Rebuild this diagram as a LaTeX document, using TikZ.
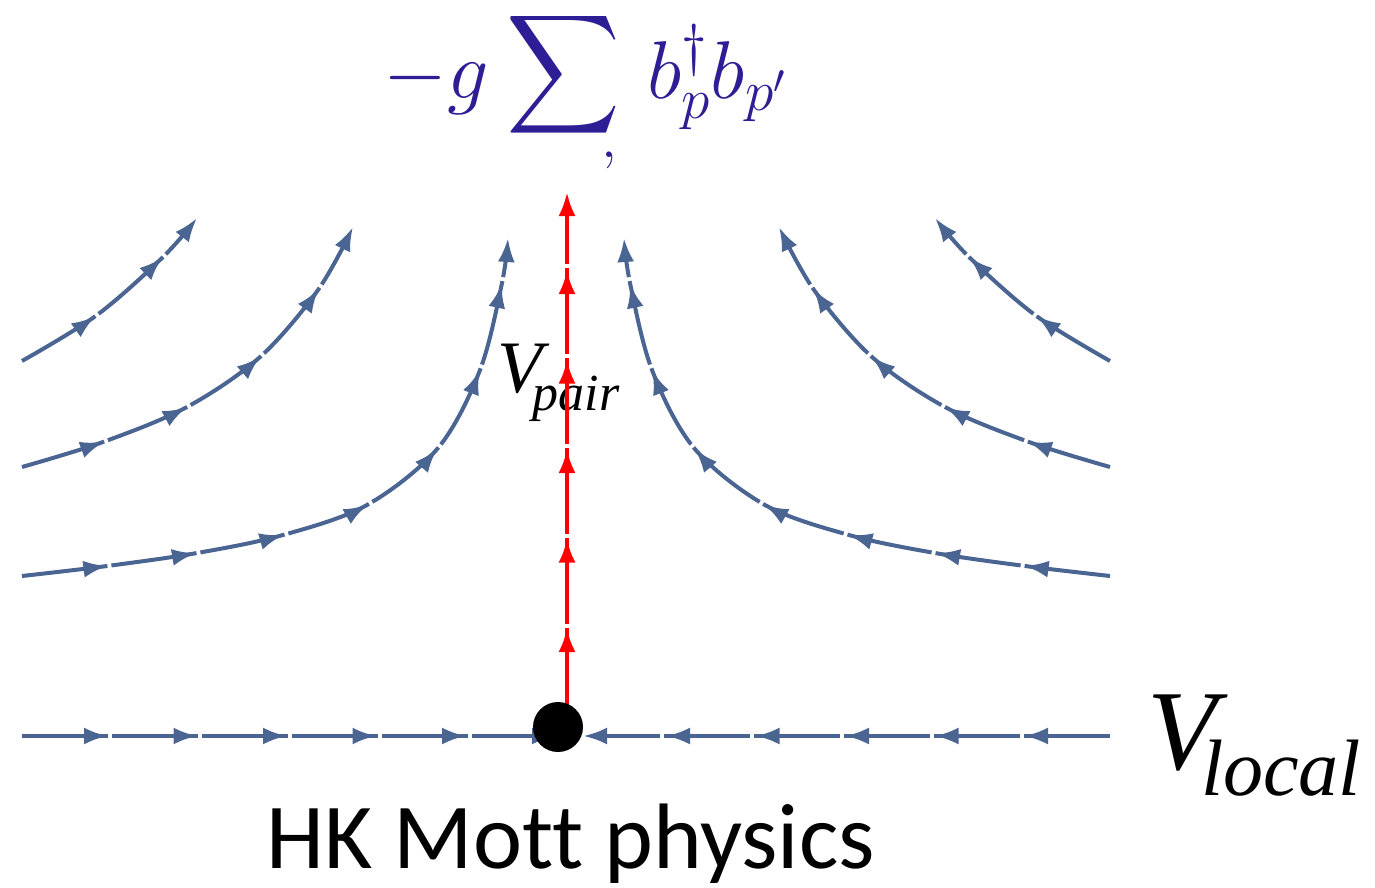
\RequirePackage{fix-cm}
\documentclass[tikz,border=0pt]{standalone}
\usepackage{graphicx}
\usepackage{fontspec}
\newfontfamily\tim{Liberation Serif}
\newfontfamily\calib{Carlito}[Ligatures=CommonOff]
\usetikzlibrary{arrows.meta,decorations.markings}
\definecolor{streamc}{RGB}{74,101,146}
\definecolor{formc}{RGB}{45,30,150}
\newcommand{\bigsum}{\mathop{\lower3.5pt\hbox{$\vcenter{\hbox{\resizebox{57pt}{76pt}{$\displaystyle\sum$}}}$}}}
\tikzset{
  tipA/.tip={Latex[length=12pt,width=8.5pt]},
  stream/.style={draw=#1, line width=2pt, dash pattern=on 43pt off 2pt, -tipA,
    postaction={decorate, decoration={markings,
      mark=between positions 43pt and -18pt step 44.75pt with {\arrow[#1]{tipA}}}}},
  stream/.default=streamc,
  lbl/.style={inner sep=0pt, anchor=base west}
}
\begin{document}
\begin{tikzpicture}[x=0.5pt,y=-0.5pt]
\useasboundingbox (0,0) rectangle (1375,888);
% texts
\node[lbl, text=formc, font=\fontsize{41}{45}\selectfont] (formula) at (383,98)
  {$\displaystyle -g\kern2pt\bigsum\, b_p^{\dagger} b_{p'}$};
\node[inner sep=0pt, text=formc, font=\fontsize{29}{32}\selectfont] (sumsub) at (609,160) {$,$};
\node[lbl] (vpair) at (497,392)
  {\tim\itshape\fontsize{37}{40}\selectfont V\kern-5pt\raisebox{-9pt}{\fontsize{26}{28}\selectfont pair}};
\node[lbl] (vlocal) at (1147,769)
  {\tim\itshape\fontsize{57}{60}\selectfont V\kern-8pt\raisebox{-13pt}{\fontsize{40}{42}\selectfont local}};
\node[lbl, font=\calib\fontsize{46.5}{50}\selectfont] (hk) at (266,868) {HK Mott physics};
% left streamlines
\draw[stream] plot[smooth, tension=0.55] coordinates {(22,361) (97,315) (163,257) (197,218)};
\draw[stream] plot[smooth, tension=0.55] coordinates {(22,467) (103,442) (187,407) (260,357) (318,290) (353,227)};
\draw[stream] plot[smooth, tension=0.55] coordinates {(22,576) (107,566) (197,553) (283,535) (367,505) (438,448) (480,370) (502,283) (508,238)};
% right streamlines
\draw[stream] plot[smooth, tension=0.55] coordinates {(1110,361) (1035,315) (969,257) (935,218)};
\draw[stream] plot[smooth, tension=0.55] coordinates {(1110,467) (1029,442) (945,407) (872,357) (814,290) (779,227)};
\draw[stream] plot[smooth, tension=0.55] coordinates {(1110,576) (1025,566) (935,553) (849,535) (765,505) (694,448) (652,370) (630,283) (624,238)};
% horizontal axis
\coordinate (hl) at (22,736);
\coordinate (hlend) at (556,736);
\coordinate (hr) at (1110,736);
\coordinate (hrend) at (583,736);
\draw[stream] (hl) -- (hlend);
\draw[stream] (hr) -- (hrend);
% red vertical
\coordinate (rs) at (567,714);
\coordinate (re) at (567,192);
\draw[stream=red] (rs) -- (re);
% fixed point
\node[circle, fill=black, inner sep=0pt, minimum size=25pt] (dot) at (558,727) {};
\end{tikzpicture}
\end{document}
